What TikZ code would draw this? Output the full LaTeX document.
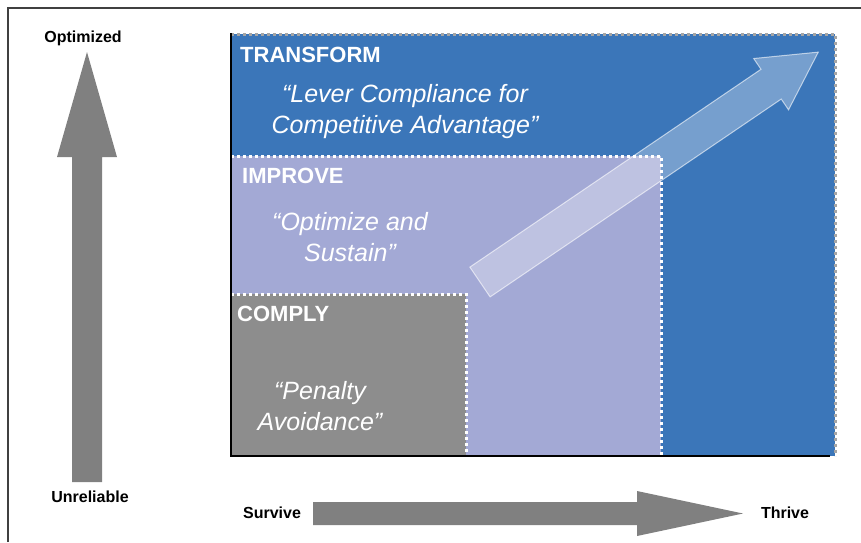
\documentclass[tikz,border=0pt]{standalone}
\usepackage{fontspec}
\setmainfont{Liberation Sans}
\usetikzlibrary{positioning}

\definecolor{transformblue}{HTML}{3B76B9}
\definecolor{improvepurple}{HTML}{A3A9D5}
\definecolor{complygrey}{HTML}{8D8D8D}
\definecolor{axisgrey}{HTML}{808080}
\definecolor{dotgrey}{HTML}{A5A5A5}

\tikzset{
    stagetitle/.style={anchor=base west,inner sep=0pt,text=white,font=\fontsize{22}{26}\selectfont\bfseries},
    stagequote/.style={align=center,inner sep=0pt,text=white,font=\fontsize{25}{31}\selectfont\itshape},
    axislabel/.style={anchor=base,inner sep=0pt,font=\fontsize{16}{19}\selectfont\bfseries},
    stageedge/.style={line width=3pt,dash pattern=on 3pt off 3pt},
    blockarrow/.style={fill=axisgrey,draw=none}
}

\begin{document}
\begin{tikzpicture}[x=1pt,y=-1pt]
    \useasboundingbox (0,0) rectangle (861,542);
    \draw[line width=1.5pt,black!75] (8,542) -- (8,8) -- (861,8);

    % stage boxes
    \fill[transformblue] (231,34) rectangle (835,456);
    \draw[stageedge,dotgrey] (231,34) -- (835,34) -- (835,456);
    \fill[improvepurple] (231,156) rectangle (661,456);
    \draw[stageedge,white] (231,156) -- (661,156) -- (661,456);
    \fill[complygrey] (231,294) rectangle (466,456);
    \draw[stageedge,white] (231,294) -- (466,294) -- (466,456);

    % axes
    \draw[line width=2.5pt] (231,33) -- (231,456) -- (830,456);

    % growth arrow
    \begin{scope}[shift={(480,282)},rotate=34.2]
        \draw[white,fill opacity=0.3,draw opacity=0.6,fill=white,line width=1pt]
            (0,-18) -- (352,-18) -- (352,-31) -- (409,0) -- (352,31) -- (352,18) -- (0,18) -- cycle;
    \end{scope}

    \node[stagetitle] (transform) at (240,62) {TRANSFORM};
    \node[stagequote] (transformq) at (405,112) {“Lever Compliance for\\Competitive Advantage”};
    \node[stagetitle] (improve) at (242,183) {IMPROVE};
    \node[stagequote] (improveq) at (350,237) {“Optimize and\\Sustain”};
    \node[stagetitle] (comply) at (237,321) {COMPLY};
    \node[stagequote] (complyq) at (320,406) {“Penalty\\Avoidance”};

    % axis arrows
    \fill[blockarrow] (72,482) -- (102,482) -- (102,157) -- (117,157) -- (87,52) -- (57,157) -- (72,157) -- cycle;
    \fill[blockarrow] (313,502) -- (637,502) -- (637,491) -- (743,513.5) -- (637,536) -- (637,525) -- (313,525) -- cycle;

    \node[axislabel] (optimized) at (83,42) {Optimized};
    \node[axislabel] (unreliable) at (90,502) {Unreliable};
    \node[axislabel] (survive) at (272,518) {Survive};
    \node[axislabel] (thrive) at (785,518) {Thrive};
\end{tikzpicture}
\end{document}
